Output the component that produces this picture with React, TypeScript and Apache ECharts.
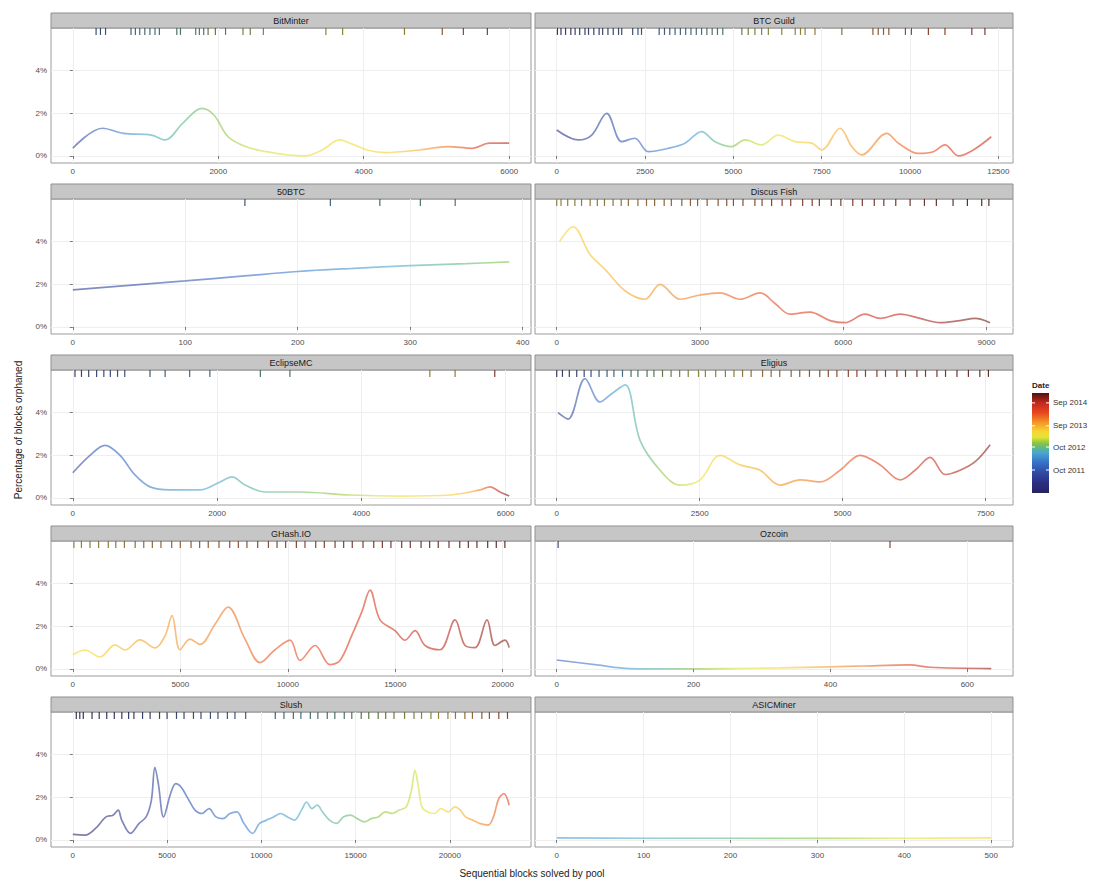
import React, { useEffect, useRef } from "react";
import * as echarts from "echarts";

// ---------- data ----------
const poolNames = ["BitMinter", "BTC Guild", "50BTC", "Discus Fish", "EclipseMC", "Eligius", "GHash.IO", "Ozcoin", "Slush", "ASICMiner"];

const bitminterX = [0, 408, 695, 1080, 1270, 1510, 1775, 1940, 2135, 2375, 2660, 2950, 3190, 3430, 3670, 3810, 4050, 4290, 4770, 5155, 5490, 5730, 6000];
const bitminterY = [0.36, 1.3, 1.06, 0.98, 0.75, 1.53, 2.23, 1.92, 0.9, 0.44, 0.2, 0.05, 0.0, 0.28, 0.75, 0.6, 0.28, 0.16, 0.28, 0.44, 0.36, 0.6, 0.6];

const btcguildX = [0, 613, 990, 1415, 1840, 2210, 2590, 3160, 3630, 4100, 4480, 4950, 5330, 5800, 6270, 6750, 7220, 7500, 8020, 8350, 8630, 9340, 9670, 10240, 10660, 10990, 11370, 11790, 12300];
const btcguildY = [1.22, 0.75, 0.98, 2.0, 0.67, 0.83, 0.2, 0.36, 0.6, 1.14, 0.67, 0.44, 0.75, 0.52, 0.98, 0.67, 0.6, 0.28, 1.3, 0.44, 0.05, 1.06, 0.6, 0.12, 0.2, 0.52, 0.0, 0.28, 0.9];

const btc50X = [0, 50, 100, 150, 200, 250, 300, 350, 388];
const btc50Y = [1.74, 1.95, 2.16, 2.38, 2.6, 2.75, 2.88, 2.97, 3.05];

const discusX = [60, 341, 697, 1011, 1430, 1849, 2163, 2581, 3000, 3419, 3838, 4257, 4571, 4885, 5304, 5723, 6037, 6456, 6770, 7189, 7608, 8026, 8445, 8759, 9073];
const discusY = [4.0, 4.7, 3.4, 2.7, 1.7, 1.3, 2.0, 1.3, 1.5, 1.6, 1.3, 1.6, 1.1, 0.6, 0.7, 0.3, 0.2, 0.6, 0.4, 0.6, 0.4, 0.2, 0.3, 0.4, 0.2];

const eclipseX = [0, 238, 446, 654, 862, 1070, 1348, 1764, 2041, 2207, 2388, 2665, 3150, 3843, 4537, 5230, 5646, 5784, 5923, 6050];
const eclipseY = [1.18, 2.0, 2.47, 2.0, 1.08, 0.52, 0.38, 0.38, 0.75, 0.99, 0.61, 0.28, 0.28, 0.14, 0.09, 0.14, 0.38, 0.52, 0.28, 0.09];

const eligiusX = [23, 198, 495, 757, 967, 1195, 1457, 1807, 2157, 2507, 2857, 3206, 3556, 3906, 4256, 4606, 4956, 5306, 5656, 6006, 6268, 6531, 6793, 7055, 7318, 7580];
const eligiusY = [4.0, 3.7, 5.6, 4.5, 4.9, 5.3, 2.7, 1.3, 0.6, 0.85, 2.0, 1.55, 1.3, 0.6, 0.85, 0.75, 1.3, 2.0, 1.55, 0.85, 1.3, 1.9, 1.1, 1.3, 1.7, 2.5];

const ghashX = [0, 568, 1265, 1963, 2428, 3126, 3824, 4289, 4615, 4987, 5452, 5917, 6615, 7220, 8011, 8709, 9406, 10104, 10569, 11267, 11965, 12430, 12988, 13454, 13826, 14291, 14989, 15454, 15920, 16385, 17083, 17781, 18246, 18711, 19269, 19641, 20106, 20300];
const ghashY = [0.66, 0.89, 0.56, 1.13, 0.89, 1.36, 0.99, 1.55, 2.5, 0.9, 1.4, 1.15, 2.1, 2.9, 1.4, 0.3, 0.9, 1.35, 0.4, 1.1, 0.2, 0.4, 1.6, 2.7, 3.7, 2.3, 1.8, 1.35, 1.8, 1.1, 0.9, 2.3, 1.1, 1.0, 2.3, 1.1, 1.35, 1.0];

const ozcoinX = [0, 59, 107, 180, 253, 326, 399, 447, 516, 545, 635];
const ozcoinY = [0.42, 0.19, 0.02, 0.0, 0.02, 0.05, 0.1, 0.14, 0.19, 0.08, 0.02];

const slushX = [0, 648, 1204, 1759, 2130, 2408, 2593, 3056, 3519, 3889, 4167, 4352, 4537, 4815, 5186, 5463, 5741, 6112, 6482, 6852, 7223, 7593, 7964, 8334, 8704, 9075, 9538, 9908, 10279, 10649, 11019, 11390, 11760, 12131, 12408, 12686, 12964, 13242, 13612, 13983, 14353, 14723, 15094, 15464, 15835, 16205, 16575, 16946, 17316, 17687, 17964, 18150, 18335, 18520, 18798, 19168, 19539, 19909, 20279, 20557, 20835, 21205, 21576, 22039, 22317, 22595, 22872, 23150];
const slushY = [0.26, 0.23, 0.54, 1.08, 1.16, 1.4, 0.93, 0.31, 0.78, 1.08, 1.86, 3.41, 2.64, 1.08, 2.17, 2.64, 2.48, 1.94, 1.4, 1.24, 1.47, 1.08, 1.0, 1.24, 1.32, 0.78, 0.31, 0.78, 0.93, 1.08, 1.24, 1.08, 0.93, 1.4, 1.78, 1.47, 1.63, 1.32, 0.93, 0.78, 1.08, 1.16, 1.0, 0.85, 1.0, 1.08, 1.32, 1.24, 1.4, 1.55, 2.33, 3.26, 2.48, 1.55, 1.32, 1.24, 1.47, 1.32, 1.55, 1.4, 1.08, 0.93, 0.78, 0.7, 1.08, 1.94, 2.17, 1.63];

const asicX = [0, 100, 200, 300, 400, 500];
const asicY = [0.1, 0.08, 0.08, 0.07, 0.08, 0.1];

// x positions of orphaned blocks (rug)
const bitminterRug = [320, 380, 450, 800, 860, 920, 990, 1060, 1130, 1190, 1430, 1480, 1690, 1740, 1800, 1860, 1960, 2100, 2340, 2440, 2620, 3480, 3710, 4560, 5080, 5370, 5700];
const btcguildRug = [20, 120, 250, 400, 520, 650, 800, 900, 1050, 1200, 1300, 1450, 1600, 1750, 1840, 2150, 2300, 2400, 2900, 3050, 3200, 3350, 3500, 3650, 3800, 3950, 4100, 4250, 4400, 4550, 4700, 5240, 5420, 5610, 5800, 5990, 6370, 6750, 6900, 7030, 7310, 8070, 8950, 9100, 9250, 9400, 9870, 10040, 10520, 10990, 11750, 12120];
const btc50Rug = [153, 229, 273, 309, 340];
const discusRug = [0, 90, 230, 380, 520, 700, 850, 1000, 1180, 1350, 1500, 1700, 1880, 2050, 2250, 2400, 2620, 2800, 2950, 3150, 3380, 3560, 3700, 3900, 4150, 4300, 4500, 4720, 4900, 5150, 5350, 5500, 5750, 5950, 6200, 6400, 6650, 6850, 7100, 7400, 7700, 7950, 8300, 8600, 8900, 9050];
const eclipseRug = [30, 120, 220, 330, 430, 520, 620, 720, 1070, 1280, 1620, 1900, 2600, 3010, 4950, 5300, 5850];
const eligiusRug = [0, 100, 220, 350, 480, 600, 740, 880, 1000, 1150, 1300, 1420, 1580, 1700, 1850, 2000, 2150, 2300, 2480, 2600, 2780, 2950, 3100, 3250, 3400, 3600, 3750, 3900, 4100, 4250, 4420, 4600, 4750, 4900, 5100, 5250, 5400, 5600, 5750, 5950, 6100, 6300, 6450, 6650, 6800, 7000, 7200, 7400, 7550];
const ghashRug = [50, 400, 800, 1200, 1650, 2000, 2400, 2900, 3300, 3700, 4100, 4600, 5000, 5500, 5900, 6300, 6800, 7300, 7700, 8100, 8600, 9100, 9500, 9900, 10400, 10800, 11300, 11700, 12200, 12600, 13000, 13500, 14000, 14400, 14800, 15300, 15700, 16200, 16600, 17000, 17500, 18000, 18400, 18800, 19300, 19700, 20100];
const ozcoinRug = [2, 487];
const slushRug = [185, 370, 555, 1020, 1400, 1800, 2200, 2600, 2960, 3240, 3700, 4100, 4600, 5000, 5500, 5900, 6400, 6800, 7300, 7700, 8200, 8600, 9170, 10740, 11200, 11700, 12100, 12600, 13000, 13500, 13900, 14400, 14800, 15300, 15700, 16200, 16600, 17040, 17600, 18100, 18500, 19000, 19400, 19900, 20300, 20800, 21200, 21700, 22100, 22600, 23060];
const asicRug: number[] = [];

// date (decimal year) anchors along each pool's block sequence
const bitminterDates = [[0, 2011.5], [1000, 2012.5], [2500, 2013.1], [4500, 2013.5], [6000, 2014.7]];
const btcguildDates = [[0, 2011.2], [3500, 2012.3], [5000, 2012.9], [7500, 2013.6], [12300, 2014.6]];
const btc50Dates = [[0, 2011.4], [388, 2012.9]];
const discusDates = [[0, 2013.4], [2000, 2013.8], [9100, 2015.0]];
const eclipseDates = [[0, 2011.6], [1500, 2012.4], [3500, 2012.9], [5500, 2013.6], [6050, 2015.0]];
const eligiusDates = [[0, 2011.3], [1000, 2012.4], [2000, 2013.0], [3500, 2013.7], [7600, 2014.9]];
const ghashDates = [[0, 2013.3], [3000, 2013.7], [20300, 2014.9]];
const ozcoinDates = [[0, 2011.9], [200, 2012.9], [300, 2013.3], [635, 2014.9]];
const slushDates = [[0, 2010.9], [10000, 2012.3], [15000, 2012.8], [19000, 2013.2], [23150, 2014.3]];
const asicDates = [[0, 2012.4], [250, 2012.8], [500, 2013.4]];

// x-axis tick labels
const bitminterTicks = [0, 2000, 4000, 6000];
const btcguildTicks = [0, 2500, 5000, 7500, 10000, 12500];
const btc50Ticks = [0, 100, 200, 300, 400];
const discusTicks = [0, 3000, 6000, 9000];
const eclipseTicks = [0, 2000, 4000, 6000];
const eligiusTicks = [0, 2500, 5000, 7500];
const ghashTicks = [0, 5000, 10000, 15000, 20000];
const ozcoinTicks = [0, 200, 400, 600];
const slushTicks = [0, 5000, 10000, 15000, 20000];
const asicTicks = [0, 100, 200, 300, 400, 500];

const xMaxes = [6000, 12300, 388, 9100, 6050, 7600, 20300, 635, 23150, 500];
const yTicks = [0, 2, 4];

const legendDates = [2011.75, 2012.75, 2013.67, 2014.67];
const legendLabels = ["Oct 2011", "Oct 2012", "Sep 2013", "Sep 2014"];
const dateMin = 2010.75;
const dateMax = 2015.1;

// ---------- colour scale ----------
const cmapStops: [number, string][] = [
  [0, "#26235e"], [0.1, "#2b2d82"], [0.22, "#3050a8"], [0.32, "#3a78cc"], [0.4, "#4aa6d0"],
  [0.45, "#5cb88a"], [0.5, "#8cc63e"], [0.56, "#e6e43a"], [0.62, "#f7d230"], [0.7, "#f59a28"],
  [0.8, "#e8481f"], [0.9, "#c42a1c"], [1, "#4e120c"],
];
function hexRgb(h: string) {
  return [parseInt(h.slice(1, 3), 16), parseInt(h.slice(3, 5), 16), parseInt(h.slice(5, 7), 16)];
}
function cmapRgb(t: number) {
  t = Math.max(0, Math.min(1, t));
  for (let i = 1; i < cmapStops.length; i++) {
    if (t <= cmapStops[i][0]) {
      const [t0, c0] = cmapStops[i - 1];
      const [t1, c1] = cmapStops[i];
      const f = (t - t0) / (t1 - t0);
      const a = hexRgb(c0), b = hexRgb(c1);
      return a.map((v, k) => Math.round(v + (b[k] - v) * f));
    }
  }
  return hexRgb(cmapStops[cmapStops.length - 1][1]);
}
function rgbStr(c: number[], k = 1) {
  return `rgb(${Math.round(c[0] * k)},${Math.round(c[1] * k)},${Math.round(c[2] * k)})`;
}
function dateT(d: number) {
  return (d - dateMin) / (dateMax - dateMin);
}
function dateAt(anchors: number[][], x: number) {
  if (x <= anchors[0][0]) return anchors[0][1];
  for (let i = 1; i < anchors.length; i++) {
    if (x <= anchors[i][0]) {
      const f = (x - anchors[i - 1][0]) / (anchors[i][0] - anchors[i - 1][0]);
      return anchors[i - 1][1] + f * (anchors[i][1] - anchors[i - 1][1]);
    }
  }
  return anchors[anchors.length - 1][1];
}

const FONT = "'Liberation Sans', Arial, sans-serif";

export default function App() {
  const ref = useRef<HTMLDivElement>(null);
  useEffect(() => {
    document.body.style.margin = "0";
    if (!ref.current) return;
    const chart = echarts.init(ref.current, null, { renderer: "svg" });

    const panels = [
      { name: poolNames[0], x: bitminterX, y: bitminterY, rug: bitminterRug, dates: bitminterDates, ticks: bitminterTicks, max: xMaxes[0] },
      { name: poolNames[1], x: btcguildX, y: btcguildY, rug: btcguildRug, dates: btcguildDates, ticks: btcguildTicks, max: xMaxes[1] },
      { name: poolNames[2], x: btc50X, y: btc50Y, rug: btc50Rug, dates: btc50Dates, ticks: btc50Ticks, max: xMaxes[2] },
      { name: poolNames[3], x: discusX, y: discusY, rug: discusRug, dates: discusDates, ticks: discusTicks, max: xMaxes[3] },
      { name: poolNames[4], x: eclipseX, y: eclipseY, rug: eclipseRug, dates: eclipseDates, ticks: eclipseTicks, max: xMaxes[4] },
      { name: poolNames[5], x: eligiusX, y: eligiusY, rug: eligiusRug, dates: eligiusDates, ticks: eligiusTicks, max: xMaxes[5] },
      { name: poolNames[6], x: ghashX, y: ghashY, rug: ghashRug, dates: ghashDates, ticks: ghashTicks, max: xMaxes[6] },
      { name: poolNames[7], x: ozcoinX, y: ozcoinY, rug: ozcoinRug, dates: ozcoinDates, ticks: ozcoinTicks, max: xMaxes[7] },
      { name: poolNames[8], x: slushX, y: slushY, rug: slushRug, dates: slushDates, ticks: slushTicks, max: xMaxes[8] },
      { name: poolNames[9], x: asicX, y: asicY, rug: asicRug, dates: asicDates, ticks: asicTicks, max: xMaxes[9] },
    ];

    const colLeft = [51, 535];
    const colWidth = [480, 478];
    const rowTop = 28;
    const rowPitch = 171;
    const plotH = 135;
    const stripH = 15;

    const grids: any[] = [];
    const xAxes: any[] = [];
    const yAxes: any[] = [];
    const series: any[] = [];
    const graphics: any[] = [];

    panels.forEach((p, i) => {
      const col = i % 2;
      const row = Math.floor(i / 2);
      const top = rowTop + row * rowPitch;
      grids.push({
        left: colLeft[col], top, width: colWidth[col], height: plotH,
        show: true, borderColor: "#9a9a9a", borderWidth: 1, backgroundColor: "#ffffff",
      });
      xAxes.push({
        gridIndex: i, type: "value", min: -0.05 * p.max, max: 1.05 * p.max,
        axisLine: { show: false },
        axisTick: { show: true, customValues: p.ticks, length: 3, lineStyle: { color: "#7a7a7a" } },
        axisLabel: { customValues: p.ticks, fontSize: 8, color: "#4d4d4d", margin: 4, fontFamily: FONT, formatter: (v: number) => String(v) },
        splitLine: { show: true, lineStyle: { color: "#eeeeee", width: 1 } },
      });
      yAxes.push({
        gridIndex: i, type: "value", min: -0.33, max: 6.0,
        axisLine: { show: false },
        axisTick: { show: col === 0, customValues: yTicks, length: 3, lineStyle: { color: "#7a7a7a" } },
        axisLabel: { show: col === 0, customValues: yTicks, fontSize: 8, color: "#4d4d4d", margin: 4, fontFamily: FONT, formatter: (v: number) => v + "%" },
        splitLine: { show: true, lineStyle: { color: "#eeeeee", width: 1 } },
      });

      const x0 = p.x[0], x1 = p.x[p.x.length - 1];
      const stops: any[] = [];
      const N = 40;
      for (let k = 0; k <= N; k++) {
        const f = k / N;
        const xv = x0 + f * (x1 - x0);
        stops.push({ offset: f, color: rgbStr(cmapRgb(dateT(dateAt(p.dates, xv)))) });
      }
      series.push({
        type: "line", xAxisIndex: i, yAxisIndex: i, silent: true,
        data: p.x.map((xv, k) => [xv, p.y[k]]),
        smooth: 0.35, showSymbol: false, symbol: "none",
        lineStyle: { width: 1.7, opacity: 0.6, color: new echarts.graphic.LinearGradient(0, 0, 1, 0, stops) },
        z: 3,
      });
      series.push({
        type: "scatter", xAxisIndex: i, yAxisIndex: i, silent: true,
        symbol: "rect", symbolSize: [1.2, 7],
        data: p.rug.map((xv) => ({
          value: [xv, 5.84],
          itemStyle: { color: rgbStr(cmapRgb(dateT(dateAt(p.dates, xv))), 0.5), opacity: 0.85 },
        })),
        z: 4,
      });

      // strip
      const sy = 13 + row * rowPitch;
      graphics.push({
        type: "rect", silent: true,
        shape: { x: colLeft[col], y: sy, width: colWidth[col], height: stripH },
        style: { fill: "#c6c6c6", stroke: "#8f8f8f", lineWidth: 1 },
      });
      graphics.push({
        type: "text", silent: true,
        x: colLeft[col] + colWidth[col] / 2, y: sy + stripH / 2,
        style: { text: p.name, fill: "#1a1a1a", font: `9px ${FONT}`, align: "center", verticalAlign: "middle", textAlign: "center", textVerticalAlign: "middle" },
      });
    });

    // axis titles
    graphics.push({
      type: "text", silent: true, x: 18, y: 430, rotation: Math.PI / 2,
      style: { text: "Percentage of blocks orphaned", fill: "#222", font: `10px ${FONT}`, align: "center", verticalAlign: "middle", textAlign: "center", textVerticalAlign: "middle" },
    });
    graphics.push({
      type: "text", silent: true, x: 532, y: 873,
      style: { text: "Sequential blocks solved by pool", fill: "#222", font: `10px ${FONT}`, align: "center", verticalAlign: "middle", textAlign: "center", textVerticalAlign: "middle" },
    });

    // colour bar legend
    const barX = 1032, barY = 393, barW = 17, barH = 100;
    const legStops = cmapStops.map(([t, c]) => ({ offset: 1 - t, color: c })).reverse();
    graphics.push({
      type: "text", silent: true, x: barX, y: barY - 8,
      style: { text: "Date", fill: "#222", font: `bold 8px ${FONT}`, align: "left", verticalAlign: "middle", textAlign: "left", textVerticalAlign: "middle" },
    });
    graphics.push({
      type: "rect", silent: true,
      shape: { x: barX, y: barY, width: barW, height: barH },
      style: { fill: new echarts.graphic.LinearGradient(0, 0, 0, 1, legStops) },
    });
    legendDates.forEach((d, k) => {
      const yy = barY + barH - dateT(d) * barH;
      graphics.push({
        type: "line", silent: true,
        shape: { x1: barX, y1: yy, x2: barX + 3, y2: yy },
        style: { stroke: "#ffffff", lineWidth: 1 },
      });
      graphics.push({
        type: "line", silent: true,
        shape: { x1: barX + barW - 3, y1: yy, x2: barX + barW, y2: yy },
        style: { stroke: "#ffffff", lineWidth: 1 },
      });
      graphics.push({
        type: "text", silent: true, x: barX + barW + 4, y: yy,
        style: { text: legendLabels[k], fill: "#333", font: `8px ${FONT}`, align: "left", verticalAlign: "middle", textAlign: "left", textVerticalAlign: "middle" },
      });
    });

    chart.setOption({
      animation: false,
      backgroundColor: "#ffffff",
      textStyle: { fontFamily: FONT },
      grid: grids,
      xAxis: xAxes,
      yAxis: yAxes,
      series,
      graphic: graphics,
    });
    return () => chart.dispose();
  }, []);
  return <div ref={ref} style={{ width: 1102, height: 881 }} />;
}
